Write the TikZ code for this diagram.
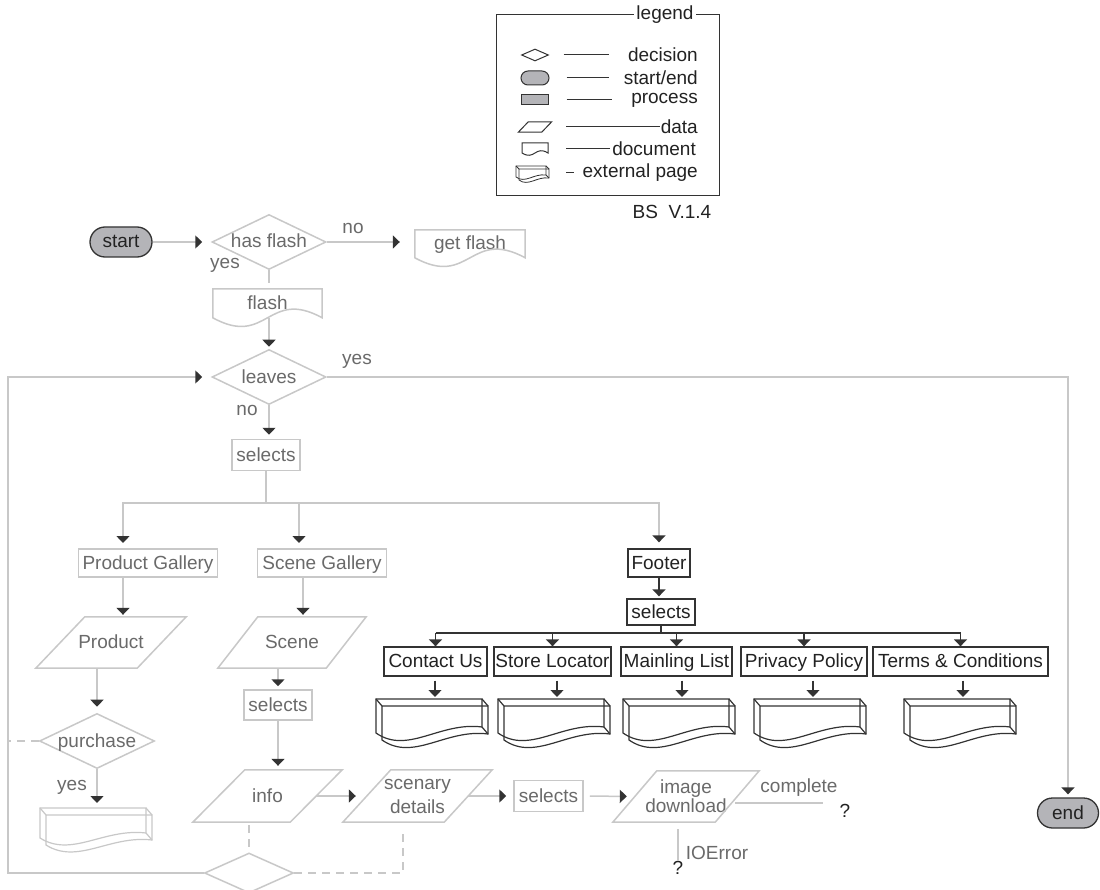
\documentclass[tikz,border=0pt]{standalone}
\usepackage{fontspec}
\setmainfont{Liberation Sans}
\usetikzlibrary{arrows.meta,shapes.geometric,calc}
\definecolor{lightc}{HTML}{C8C8C8}
\definecolor{textg}{HTML}{6A6A6A}
\definecolor{darkc}{HTML}{333333}
\definecolor{fillg}{HTML}{B4B4B8}
\definecolor{txtd}{HTML}{222222}
% parallelogram drawn over a ghost node: node, slant, style
\newcommand{\parag}[3]{%
 \draw[#3] ($(#1.north west)+(#2,0)$) -- (#1.north east) -- ($(#1.south east)+(-#2,0)$) -- (#1.south west) -- cycle;
 \coordinate (#1-l) at ($(#1.west)+(#2/2,0)$);
 \coordinate (#1-r) at ($(#1.east)+(-#2/2,0)$);}
% document shape over a ghost node: node, side height, wave, style
\newcommand{\docpath}[4]{%
 \draw[#4] (#1.north west) -- (#1.north east) -- ($(#1.north east)+(0,#2)$) .. controls ($(#1.north)+(0,#2-#3)$) and ($(#1.north)+(0,#2+#3)$) .. ($(#1.north west)+(0,#2)$) -- cycle;}
% document shape at absolute place: style, x, y, W, H, d
\newcommand{\docabs}[6]{%
 \draw[#1] (#2,#3) -- ({#2+#4},#3) -- ({#2+#4},{#3+#5}) .. controls ({#2+0.5*#4},{#3+#5-#6}) and ({#2+0.5*#4},{#3+#5+#6}) .. (#2,{#3+#5}) -- cycle;}
% one face of an external page: style, x, y, W, hL, hR, c
\newcommand{\extface}[7]{%
 \draw[#1] (#2,#3) -- ({#2+#4},#3) -- ({#2+#4},{#3+#6}) .. controls ({#2+0.6*#4},{#3+#6-0.25*#7}) and ({#2+0.3*#4},{#3+#5+#7}) .. (#2,{#3+#5}) -- cycle;}
% external page: style, x, y, W, hL, hR, c, ox, oy
\newcommand{\extabs}[9]{%
 \extface{#1}{#2}{#3}{#4}{#5}{#6}{#7}
 \extface{#1}{#2+#8}{#3+#9}{#4}{#5}{#6}{#7}
 \draw[#1] (#2,#3) -- ({#2+#8},{#3+#9});
 \draw[#1] ({#2+#4},#3) -- ({#2+#4+#8},{#3+#9});
 \draw[#1] ({#2+#4},{#3+#6}) -- ({#2+#4+#8},{#3+#6+#9});}
\begin{document}
\begin{tikzpicture}[x=1pt,y=-1pt, font=\fontsize{19}{22}\selectfont,
 lline/.style={draw=lightc,line width=1.5pt},
 dline/.style={draw=darkc,line width=1.3pt},
 arr/.style={-{Triangle[length=7pt,width=13pt,color=darkc]}},
 tx/.style={text height=14pt,text depth=2pt},
 lbox/.style={lline,text=textg,rectangle,inner sep=0pt,tx},
 dbox/.style={dline,text=txtd,rectangle,inner sep=0pt,tx},
 ldec/.style={lline,text=textg,diamond,aspect=2,inner sep=0pt,tx},
 term/.style={dline,fill=fillg,text=txtd,rectangle,rounded corners=15pt,inner sep=0pt,minimum width=62pt,minimum height=30pt,tx},
 ghost/.style={rectangle,inner sep=0pt,text=textg},
 lab/.style={text=textg,inner sep=0pt,tx},
 dashl/.style={lline,dash pattern=on 8pt off 6pt},
 legl/.style={draw=darkc,line width=1pt},
 ]
\fill[white] (0,0) rectangle (1100,890);
\useasboundingbox (0,0) rectangle (1100,890);

% ---------- legend ----------
\draw[legl] (496,15) rectangle (719,196);
\node[fill=white,text=txtd,inner sep=2pt] (legtitle) at (665,15) {legend};
\node[legl,diamond,aspect=2.2,inner sep=0pt,minimum width=27pt,minimum height=12pt] (li1) at (535,55) {};
\node[legl,fill=fillg,rounded corners=7pt,minimum width=28pt,minimum height=14pt,inner sep=0pt] (li2) at (535,78) {};
\node[legl,fill=fillg,minimum width=27pt,minimum height=10pt,inner sep=0pt] (li3) at (535,100) {};
\node[ghost,minimum width=33pt,minimum height=10pt] (li4) at (535,127) {};
\parag{li4}{10}{legl}
\docabs{legl}{522}{143}{26}{10}{8}
\coordinate (li5) at (548,149);
\extabs{draw=darkc,line width=0.8pt}{516}{166}{30}{11}{9}{7}{3}{3}
\coordinate (li6) at (551,173);
\node[anchor=east,text=txtd,inner sep=0pt] (lt1) at (698,55) {decision};
\node[anchor=east,text=txtd,inner sep=0pt] (lt2) at (698,78) {start/end};
\node[anchor=east,text=txtd,inner sep=0pt] (lt3) at (698,100) {process};
\node[anchor=east,text=txtd,inner sep=0pt] (lt4) at (698,127) {data};
\node[anchor=east,text=txtd,inner sep=0pt] (lt5) at (696,149) {document};
\node[anchor=east,text=txtd,inner sep=0pt] (lt6) at (698,173) {external page};
\draw[legl,shorten <=14.5pt,shorten >=19pt] (li1.east) -- (lt1.west);
\draw[legl,shorten <=17pt,shorten >=15pt] (li2.east) -- (lt2.west);
\draw[legl,shorten <=17.5pt,shorten >=19.5pt] (li3.east) -- (lt3.west);
\draw[legl,shorten <=19.5pt,shorten >=1pt] (li4-r) -- (lt4.west);
\draw[legl,shorten <=18pt,shorten >=2.5pt] (li5) -- (lt5.west);
\draw[legl,shorten <=15pt,shorten >=8pt] (li6) -- (lt6.west);
\node[text=txtd,inner sep=0pt] (ver) at (672,212) {BS\ \ V.1.4};

% ---------- main flow nodes ----------
\node[term] (start) at (121,242) {start};
\node[ldec,minimum width=114pt,minimum height=55pt] (hasflash) at (269,242) {has flash};
\node[ghost,minimum width=110pt,minimum height=28pt,tx] (getflash) at (470,244) {get flash};
\docpath{getflash}{28}{30}{lline}
\node[ghost,minimum width=109pt,minimum height=29pt,tx] (flash) at (267.5,303.5) {flash};
\docpath{flash}{29}{30}{lline}
\node[ldec,minimum width=114pt,minimum height=55pt] (leaves) at (269,377) {leaves};
\node[lbox,minimum width=68pt,minimum height=31pt] (sel1) at (266,455) {selects};
\node[lbox,minimum width=139pt,minimum height=28pt] (pg) at (148,563) {Product Gallery};
\node[lbox,minimum width=129pt,minimum height=28pt] (sg) at (322,563) {Scene Gallery};
\node[dbox,minimum width=62pt,minimum height=28pt] (footer) at (659,563) {Footer};
\node[dbox,minimum width=68pt,minimum height=26pt] (sel4) at (661,612) {selects};

\node[ghost,minimum width=150pt,minimum height=51pt,tx] (product) at (111,642.5) {Product};
\parag{product}{49}{lline}
\node[ldec,minimum width=115pt,minimum height=55pt] (purchase) at (97,741) {purchase};
\extabs{draw=lightc,line width=1.2pt}{40}{808}{106}{30}{25}{20}{6}{7}
\coordinate (ep0) at (97,808);

\node[ghost,minimum width=148pt,minimum height=51pt,tx] (scene) at (292,642.5) {Scene};
\parag{scene}{40}{lline}
\node[lbox,minimum width=68pt,minimum height=30pt] (sel2) at (278,705) {selects};
\node[ghost,minimum width=149pt,minimum height=52pt,tx] (info) at (267.5,796) {info};
\parag{info}{52}{lline}
\node[ghost,minimum width=149pt,minimum height=52pt,align=center,font=\fontsize{19}{24}\selectfont] (scen) at (417.5,796) {scenary\\details};
\parag{scen}{48}{lline}
\node[lbox,minimum width=69pt,minimum height=31pt] (sel3) at (548.5,796) {selects};
\node[ghost,minimum width=146pt,minimum height=51pt,align=center,font=\fontsize{19}{16}\selectfont] (imgdl) at (686,796.5) {image\\download};
\parag{imgdl}{44}{lline}
\node[lline,diamond,aspect=2.2,inner sep=0pt,minimum width=89pt,minimum height=40pt] (bdiam) at (249,873) {};
\node[term,minimum width=61pt] (stop) at (1068,813) {end};

% labels
\node[lab] (noA) at (353,228) {no};
\node[lab] (yesA) at (225,263) {yes};
\node[lab] (yesB) at (357,359) {yes};
\node[lab] (noB) at (247,409) {no};
\node[lab] (yesC) at (72,784) {yes};
\node[lab] (comp) at (799,786) {complete};
\node[lab] (ioe) at (717,853) {IOError};
\node[text=txtd,inner sep=0pt] (q1) at (845,811) {?};
\node[text=txtd,inner sep=0pt] (q2) at (678,868) {?};

% footer row
\node[dbox,minimum width=103pt,minimum height=29pt] (contact) at (435.5,661.5) {Contact Us};
\node[dbox,minimum width=117pt,minimum height=29pt] (store) at (552.5,661.5) {Store Locator};
\node[dbox,minimum width=111pt,minimum height=29pt] (mail) at (676.5,661.5) {Mainling List};
\node[dbox,minimum width=126pt,minimum height=29pt] (priv) at (804,661.5) {Privacy Policy};
\node[dbox,minimum width=175pt,minimum height=29pt] (terms) at (960.5,661.5) {Terms \& Conditions};

% ---------- connectors ----------
\coordinate (loopx) at (8,0);
\coordinate (br) at (266,503);
\coordinate (pgin) at (123,549);
\coordinate (sgin) at (299,549);
\coordinate (sgout) at (303,0);
\coordinate (imgc) at (735,803);
\coordinate (scd) at (403,830);
\coordinate (fb) at (661,633);

\draw[lline,arr,shorten >=9pt] (start.east) -- (hasflash.west);
\draw[lline,arr,shorten >=15pt] (hasflash.east) -- (hasflash.east -| getflash.west);
\draw[lline,shorten >=6pt] (hasflash.south) -- (hasflash.south |- flash.north);
\draw[lline,arr,shorten >=2pt] (leaves.north |- flash.south) -- (leaves.north);
\draw[lline,arr,shorten >=9pt] (bdiam.west) -- (bdiam.west -| loopx) -- (loopx |- leaves.west) -- (leaves.west);
\draw[lline,arr,shorten >=3pt] (leaves.east) -| (stop.north);
\draw[lline,arr,shorten >=4pt] (leaves.south) -- (leaves.south |- sel1.north);
\draw[lline] (sel1.south) -- (br);
\draw[lline,arr,shorten >=6pt] (br) -| (pgin);
\draw[lline,arr,shorten >=6pt] (br) -| (sgin);
\draw[lline,arr,shorten >=6pt] (br) -| (footer.north);
\draw[lline,arr,shorten >=2pt] (pgin |- pg.south) -- (pgin |- product.north);
\draw[lline,arr,shorten >=6pt] (purchase.north |- product.south) -- (purchase.north);
\draw[dashl] (purchase.west) -- (purchase.west -| loopx);
\draw[lline,arr,shorten >=5pt] (purchase.south) -- (ep0);
\draw[lline,arr,shorten >=2pt] (sgout |- sg.south) -- (sgout |- scene.north);
\draw[lline,arr,shorten >=3pt] (sel2.north |- scene.south) -- (sel2.north);
\draw[lline,arr,shorten >=4pt] (sel2.south) -- (sel2.south |- info.north);
\draw[lline,arr,shorten >=11pt] (info-r) -- (scen-l);
\draw[lline,arr,shorten >=7pt] (scen-r) -- (sel3.west);
\draw[lline,arr,shorten <=6pt,shorten >=8pt] (sel3.east) -- (imgdl-l);
\draw[lline,shorten >=17pt] (imgc) -- (imgc -| q1.west);
\draw[lline,shorten <=7pt] (imgdl.south -| q2) -- (q2.north);
\draw[dashl,shorten <=3pt] (bdiam.north |- info.south) -- (bdiam.north);
\draw[dashl] (bdiam.east) -| (scd);

\draw[dline,arr,shorten >=2pt] (footer.south) -- (footer.south |- sel4.north);
\draw[dline] (sel4.south) -- (fb);
\draw[dline] (contact.north |- fb) -- (terms.north |- fb);
\foreach \n in {contact,store,mail,priv,terms}
  \draw[dline,arr] (\n.north |- fb) -- (\n.north);
\foreach \x/\n in {376/contact,498/store,623/mail,754/priv,904/terms}{
  \extabs{draw=darkc,line width=1.2pt}{\x}{699}{106}{34}{28}{22}{6}{7}
  \coordinate (ep-\n) at ({\x+59},699);
  \draw[dline,arr,shorten <=4pt,shorten >=2pt] (ep-\n |- \n.south) -- (ep-\n);
}
\end{tikzpicture}
\end{document}
